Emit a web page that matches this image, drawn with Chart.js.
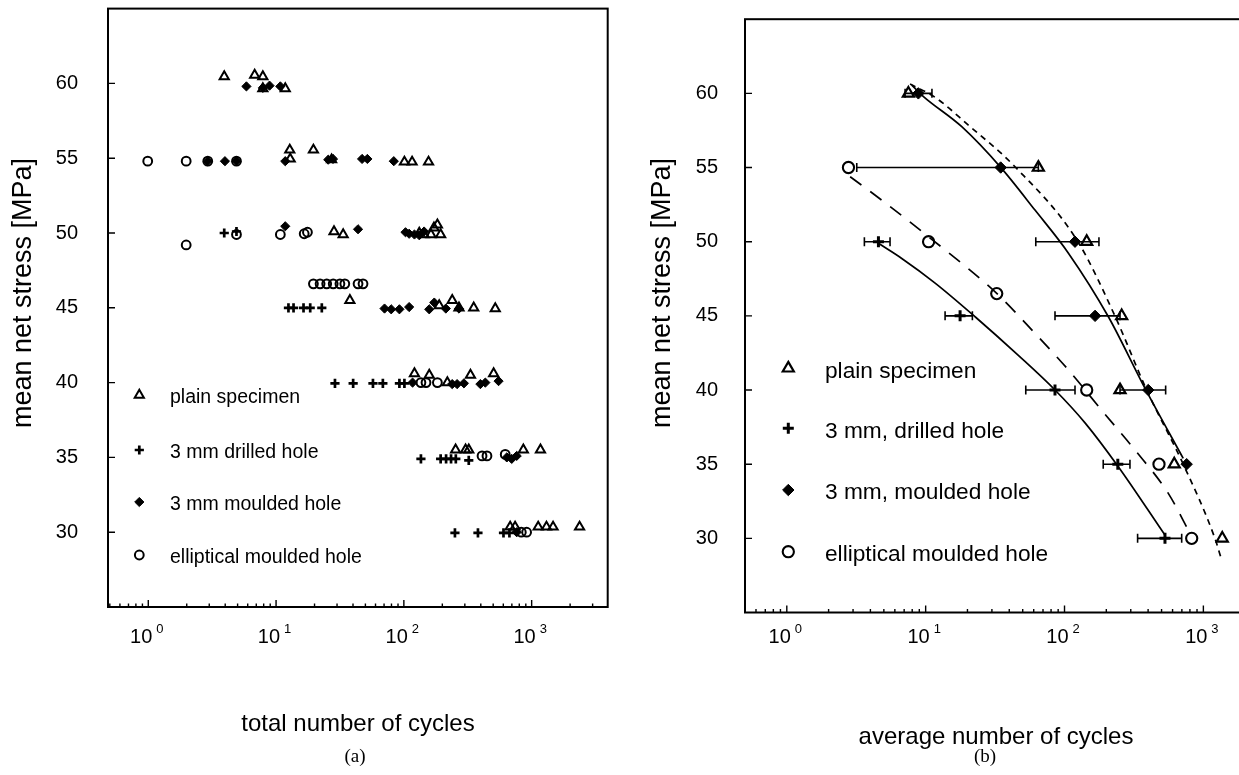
<!DOCTYPE html>
<html>
<head>
<meta charset="utf-8">
<script src="https://cdn.jsdelivr.net/npm/chart.js@4.4.1/dist/chart.umd.min.js"></script>
<style>
  html, body { margin: 0; padding: 0; background: #fff; overflow: hidden; }
  body { width: 1239px; height: 775px; position: relative; }
  canvas { position: absolute; top: 0; }
  #chartA { left: 0; }
  #chartB { left: 620px; }
</style>
</head>
<body>
<canvas id="chartA" width="625" height="775"></canvas>
<canvas id="chartB" width="680" height="775"></canvas>
<script>
const FONT = "'Liberation Sans', Arial, Helvetica, sans-serif";
const SERIF = "'Liberation Serif', 'Times New Roman', serif";

// axis ticks
const stressTicks = [30, 35, 40, 45, 50, 55, 60];
const decadeTicks = [1, 10, 100, 1000];
const decadeExp = ['0', '1', '2', '3'];

// (a) all specimens: cycles N, mean net stress S
const plainA_N = [3.93, 6.80, 7.88, 7.88, 11.8,
  12.8, 12.9, 19.6, 27.2, 101, 116, 156,
  28.4, 33.5, 132, 144, 163, 172, 183, 194,
  37.8, 189, 239, 270, 352, 519,
  121, 158, 219, 332, 504,
  254, 304, 322, 861, 1172,
  679, 742, 1125, 1306, 1471, 2371];
const plainA_S = [60.45, 60.55, 60.45, 59.65, 59.65,
  55.55, 54.95, 55.55, 54.9, 54.75, 54.75, 54.75,
  50.1, 49.9, 50.0, 49.9, 49.9, 50.35, 50.55, 49.9,
  45.5, 45.15, 45.5, 45.0, 45.0, 44.95,
  40.6, 40.5, 40.0, 40.5, 40.6,
  35.5, 35.5, 35.5, 35.5, 35.5,
  30.35, 30.35, 30.35, 30.35, 30.35, 30.35];

const drilledA_N = [3.93, 4.90,
  12.5, 13.7, 16.4, 18.5, 22.8,
  28.9, 40.1, 57.3, 68.5, 92.3, 101,
  136, 194, 214, 234, 255, 322,
  251, 380, 602, 670];
const drilledA_S = [50.0, 50.1,
  45.0, 45.0, 45.0, 45.0, 45.0,
  39.95, 39.95, 39.95, 39.95, 39.95, 39.95,
  34.9, 34.9, 34.9, 34.9, 34.9, 34.8,
  29.95, 29.95, 29.95, 29.95];

const mouldedA_N = [5.86, 7.88, 8.89, 10.8,
  2.92, 3.98, 4.90, 11.8, 25.6, 27.9, 47.1, 51.8, 83.4,
  11.8, 43.8, 103, 110, 121, 132, 144,
  70.6, 79.6, 92.3, 110, 158, 173, 213, 270,
  117, 239, 261, 295, 397, 434, 551,
  639, 698, 764,
  764];
const mouldedA_S = [59.8, 59.7, 59.85, 59.8,
  54.8, 54.8, 54.8, 54.8, 54.9, 54.95, 54.95, 54.95, 54.8,
  50.45, 50.25, 50.05, 49.95, 49.9, 49.85, 50.1,
  44.95, 44.9, 44.9, 45.05, 44.9, 45.35, 44.95, 44.95,
  40.0, 39.9, 39.9, 39.95, 39.9, 40.0, 40.1,
  35.0, 34.9, 35.1,
  30.0];

const ellipticalA_N = [0.99, 1.98, 2.92, 4.90,
  1.98, 4.90, 10.8, 16.6, 17.6,
  19.6, 22.1, 24.9, 28.0, 31.6, 34.5, 43.8, 47.9,
  136, 149, 183,
  409, 447, 621,
  830, 913];
const ellipticalA_S = [54.8, 54.8, 54.8, 54.8,
  49.2, 49.9, 49.9, 49.95, 50.05,
  46.6, 46.6, 46.6, 46.6, 46.6, 46.6, 46.6, 46.6,
  40.0, 40.0, 40.0,
  35.1, 35.1, 35.2,
  30.0, 30.0];

// (b) averages with scatter bands
const plainB_N = [7.51, 64.8, 144.5, 258, 251, 617, 1368];
const plainB_S = [60, 55, 50, 45, 40, 35, 30];

const drilledB_N = [4.57, 17.7, 85.4, 242, 529];
const drilledB_S = [50, 45, 40, 35, 30];
const drilledB_lo = [3.62, 13.8, 52.6, 190, 336];
const drilledB_hi = [5.54, 21.7, 119, 296, 698];

const mouldedB_N = [8.86, 34.7, 119, 166, 401, 758];
const mouldedB_S = [60, 55, 50, 45, 40, 35];
const mouldedB_lo = [7.11, 3.19, 62.1, 85.4, 251, null];
const mouldedB_hi = [11.1, 64.8, 177, 251, 535, null];

const ellipticalB_N = [2.78, 10.5, 32.5, 144.5, 479, 824];
const ellipticalB_S = [55, 50, 46.5, 40, 35, 30];

// fitted curves in (b)
const plainFit_N = [7.72, 11.7, 20.3, 44.0, 124, 231, 391, 716, 1211, 1355];
const plainFit_S = [60.63, 59.73, 57.86, 55.05, 50.04, 44.98, 39.99, 35.0, 30.0, 28.53];
const mouldedFit_N = [7.94, 9.6, 18.2, 34.7, 61.3, 107, 207, 380, 716];
const mouldedFit_S = [60.56, 59.8, 57.75, 55.01, 52.13, 49.21, 44.94, 40.11, 35.39];
const ellipticalFit_N = [2.86, 4.83, 10.5, 32.5, 61.3, 107, 185, 322, 559, 801];
const ellipticalFit_S = [54.38, 52.8, 50.33, 46.51, 43.82, 41.34, 38.64, 35.95, 33.03, 30.33];
const drilledFit_N = [4.57, 6.73, 11.7, 22.7, 46.3, 85.4, 141, 244, 529];
const drilledFit_S = [49.89, 48.87, 47.21, 44.94, 42.35, 40.0, 37.77, 34.83, 30.22];

Chart.defaults.font.family = FONT;
Chart.defaults.color = '#000';

const pts = (N, S) => N.map((n, i) => ({ x: n, y: S[i] }));

function markers(label, N, S, style, radius, width, fill) {
  return {
    label, data: pts(N, S), showLine: false,
    pointStyle: style, pointRadius: radius, pointHoverRadius: radius,
    borderColor: '#000', pointBorderColor: '#000',
    backgroundColor: fill, pointBackgroundColor: fill,
    borderWidth: width, pointBorderWidth: width
  };
}

function curve(N, S, dash) {
  return {
    label: '', data: pts(N, S), showLine: true, pointRadius: 0,
    borderColor: '#000', borderWidth: 1.7, borderDash: dash,
    cubicInterpolationMode: 'monotone'
  };
}

function makeSketch(p) {
  return {
    id: 'sketch',
    beforeDatasetsDraw(chart) {
      const { ctx, chartArea: a, scales: { x, y } } = chart;
      ctx.save();
      ctx.strokeStyle = '#000';
      // scatter bands
      ctx.lineWidth = 1.6;
      p.bars.forEach(b => {
        b.s.forEach((s, i) => {
          if (b.lo[i] == null) return;
          const py = y.getPixelForValue(s);
          const x0 = x.getPixelForValue(b.lo[i]);
          const x1 = x.getPixelForValue(b.hi[i]);
          ctx.beginPath();
          ctx.moveTo(x0, py); ctx.lineTo(x1, py);
          ctx.moveTo(x0, py - 4.5); ctx.lineTo(x0, py + 4.5);
          ctx.moveTo(x1, py - 4.5); ctx.lineTo(x1, py + 4.5);
          ctx.stroke();
        });
      });
      // frame
      ctx.lineWidth = 2;
      ctx.strokeRect(a.left, a.top, a.right - a.left, a.bottom - a.top);
      // inward ticks
      ctx.lineWidth = 1.4;
      ctx.beginPath();
      for (let d = -1; d <= 4; d++) {
        for (let k = 1; k <= 9; k++) {
          const v = k * Math.pow(10, d);
          if (v < x.min || v > x.max) continue;
          const px = x.getPixelForValue(v);
          ctx.moveTo(px, a.bottom);
          ctx.lineTo(px, a.bottom - (k === 1 ? 7 : 3.5));
        }
      }
      stressTicks.forEach(v => {
        const py = y.getPixelForValue(v);
        ctx.moveTo(a.left, py);
        ctx.lineTo(a.left + 7, py);
      });
      ctx.stroke();
      ctx.restore();
    },
    afterDraw(chart) {
      const { ctx, scales: { x } } = chart;
      ctx.save();
      ctx.fillStyle = '#000';
      // decade labels
      decadeTicks.forEach((v, i) => {
        const px = x.getPixelForValue(v);
        ctx.textBaseline = 'middle';
        ctx.font = `20px ${FONT}`;
        ctx.textAlign = 'right';
        ctx.fillText('10', px + 4, p.tickY);
        ctx.font = `13px ${FONT}`;
        ctx.textAlign = 'left';
        ctx.fillText(decadeExp[i], px + 8, p.tickY - 8);
      });
      // axis titles
      ctx.font = `24px ${FONT}`;
      ctx.textAlign = 'center';
      ctx.fillText(p.xTitle, p.xTitleX, p.xTitleY);
      ctx.save();
      ctx.translate(p.yTitleX, p.yTitleY);
      ctx.rotate(-Math.PI / 2);
      ctx.font = `27px ${FONT}`;
      ctx.fillText('mean net stress [MPa]', 0, 0);
      ctx.restore();
      ctx.font = `19px ${SERIF}`;
      ctx.fillText(p.tag, p.tagX, p.tagY);
      // legend
      p.legend.forEach((txt, i) => {
        const ds = chart.data.datasets[i];
        const yy = p.legendRows[i];
        ctx.strokeStyle = '#000';
        ctx.fillStyle = ds.backgroundColor;
        ctx.lineWidth = ds.borderWidth;
        Chart.helpers.drawPoint(ctx, {
          pointStyle: ds.pointStyle, radius: ds.pointRadius, rotation: 0, borderWidth: ds.borderWidth
        }, p.legendX, yy);
        ctx.fillStyle = '#000';
        ctx.font = `${p.legendFont}px ${FONT}`;
        ctx.textAlign = 'left';
        ctx.textBaseline = 'middle';
        ctx.fillText(txt, p.legendTextX, yy + 3);
      });
      ctx.restore();
    }
  };
}

function makeChart(id, p) {
  return new Chart(document.getElementById(id), {
    type: 'scatter',
    data: { datasets: p.datasets },
    options: {
      responsive: false,
      animation: false,
      events: [],
      layout: { padding: { left: 0, right: p.padRight, top: p.padTop, bottom: 0 } },
      scales: {
        x: {
          type: 'logarithmic', min: p.xMin, max: p.xMax,
          grid: { display: false, drawTicks: false },
          border: { display: false },
          ticks: { display: false },
          afterFit: s => { s.height = p.xHeight; s.paddingLeft = 0; s.paddingRight = 0; }
        },
        y: {
          type: 'linear', min: 25, max: 65,
          afterBuildTicks: s => { s.ticks = stressTicks.map(v => ({ value: v })); },
          grid: { display: false, drawTicks: false },
          border: { display: false },
          ticks: { font: { size: 20 }, padding: p.yPad, color: '#000' },
          afterFit: s => { s.width = p.yWidth; s.paddingTop = 0; s.paddingBottom = 0; }
        }
      },
      plugins: { legend: { display: false }, tooltip: { enabled: false } }
    },
    plugins: [makeSketch(p)]
  });
}

const none = 'rgba(0,0,0,0)';

makeChart('chartA', {
  datasets: [
    markers('plain specimen', plainA_N, plainA_S, 'triangle', 5.3, 2, none),
    markers('3 mm drilled hole', drilledA_N, drilledA_S, 'cross', 4.6, 2.7, none),
    markers('3 mm moulded hole', mouldedA_N, mouldedA_S, 'rectRot', 4.6, 1, '#000'),
    markers('elliptical moulded hole', ellipticalA_N, ellipticalA_S, 'circle', 4.4, 2, none)
  ],
  xMin: 0.484, xMax: 3936, padTop: 8.6, padRight: 17.3, xHeight: 168, yWidth: 108, yPad: 30,
  bars: [],
  legend: ['plain specimen', '3 mm drilled hole', '3 mm moulded hole', 'elliptical moulded hole'],
  legendX: 139.3, legendTextX: 170, legendRows: [395, 450, 502, 555], legendFont: 19.5,
  tickY: 637,
  xTitle: 'total number of cycles', xTitleX: 358, xTitleY: 724,
  yTitleX: 24, yTitleY: 293,
  tag: '(a)', tagX: 355, tagY: 757
});

makeChart('chartB', {
  datasets: [
    markers('plain specimen', plainB_N, plainB_S, 'triangle', 6.4, 2.2, none),
    markers('3 mm, drilled hole', drilledB_N, drilledB_S, 'cross', 5.5, 3, none),
    markers('3 mm, moulded hole', mouldedB_N, mouldedB_S, 'rectRot', 5.7, 1, '#000'),
    markers('elliptical moulded hole', ellipticalB_N, ellipticalB_S, 'circle', 5.6, 2.1, none),
    curve(plainFit_N, plainFit_S, [6, 5]),
    curve(mouldedFit_N, mouldedFit_S, []),
    curve(ellipticalFit_N, ellipticalFit_S, [14, 11]),
    curve(drilledFit_N, drilledFit_S, [])
  ],
  xMin: 0.5, xMax: 3936, padTop: 19.2, padRight: 14, xHeight: 162.5, yWidth: 125, yPad: 27,
  bars: [
    { s: drilledB_S, lo: drilledB_lo, hi: drilledB_hi },
    { s: mouldedB_S, lo: mouldedB_lo, hi: mouldedB_hi }
  ],
  legend: ['plain specimen', '3 mm, drilled hole', '3 mm, moulded hole', 'elliptical moulded hole'],
  legendX: 168.3, legendTextX: 205, legendRows: [368.3, 428.3, 490, 551.7], legendFont: 22.7,
  tickY: 637,
  xTitle: 'average number of cycles', xTitleX: 376, xTitleY: 737,
  yTitleX: 43, yTitleY: 293,
  tag: '(b)', tagX: 365, tagY: 757
});
</script>
</body>
</html>
